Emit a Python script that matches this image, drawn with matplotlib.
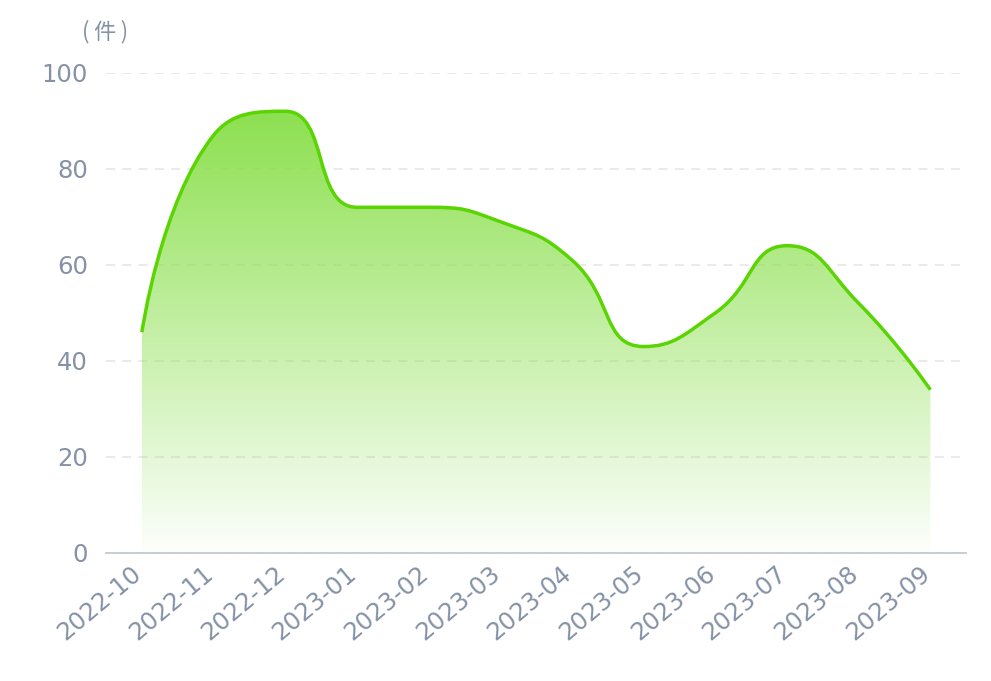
import numpy as np
import matplotlib
matplotlib.use("Agg")
import matplotlib.pyplot as plt
from matplotlib.path import Path
from matplotlib.patches import PathPatch
from matplotlib.transforms import ScaledTranslation

# monthly counts (件)
months = ["2022-10", "2022-11", "2022-12", "2023-01", "2023-02", "2023-03",
          "2023-04", "2023-05", "2023-06", "2023-07", "2023-08", "2023-09"]
counts = [46, 87, 92, 72, 72, 69, 61, 43, 50, 64, 52, 34]
y_ticks = [0, 20, 40, 60, 80, 100]

LINE_COLOR = "#5ad402"
TOP_RGB = (0.55, 0.88, 0.31)
LABEL_COLOR = "#8592a6"

plt.rcParams["font.family"] = ["DejaVu Sans"]


def smooth_path(xs, ys, sx, sy, smooth=0.5):
    """echarts-like smoothed bezier through the points, in data coords."""
    px = np.asarray(xs, float) * sx
    py = np.asarray(ys, float) * sy
    n = len(px)
    verts = [(px[0], py[0])]
    codes = [Path.MOVETO]
    cp0 = (px[0], py[0])
    for i in range(1, n):
        x, y = px[i], py[i]
        prev_x, prev_y = px[i - 1], py[i - 1]
        if i == n - 1:
            cp1 = (x, y)
            nxt = None
        else:
            nx, ny = px[i + 1], py[i + 1]
            vx, vy = nx - prev_x, ny - prev_y
            len_prev = np.hypot(x - prev_x, y - prev_y)
            len_next = np.hypot(nx - x, ny - y)
            ratio = len_next / (len_next + len_prev)
            ncx = x + vx * smooth * ratio
            ncy = y + vy * smooth * ratio
            ncx = max(min(ncx, max(nx, x)), min(nx, x))
            ncy = max(min(ncy, max(ny, y)), min(ny, y))
            vx, vy = ncx - x, ncy - y
            c1x = x - vx * len_prev / len_next
            c1y = y - vy * len_prev / len_next
            c1x = max(min(c1x, max(prev_x, x)), min(prev_x, x))
            c1y = max(min(c1y, max(prev_y, y)), min(prev_y, y))
            vx, vy = x - c1x, y - c1y
            nxt = (x + vx * len_next / len_prev, y + vy * len_next / len_prev)
            cp1 = (c1x, c1y)
        verts += [cp0, cp1, (x, y)]
        codes += [Path.CURVE4] * 3
        cp0 = nxt
    verts = [(vx / sx, vy / sy) for vx, vy in verts]
    return verts, codes


fig = plt.figure(figsize=(9.91, 6.81), dpi=100)
ax = fig.add_axes([0.107, 0.188, 0.868, 0.705])

x = np.arange(len(months))
ax.set_xlim(-0.5, len(months) - 0.5)
ax.set_ylim(0, 100)

# pixel scale per data unit, used for the smoothing distances
verts, codes = smooth_path(x, counts, 71.67, 4.8)
line_path = Path(verts, codes)

fill_verts = verts + [(x[-1], 0), (x[0], 0), verts[0]]
fill_codes = codes + [Path.LINETO, Path.LINETO, Path.CLOSEPOLY]
fill_patch = PathPatch(Path(fill_verts, fill_codes), facecolor="none",
                       edgecolor="none")
ax.add_patch(fill_patch)

top = max(counts)
grad = np.zeros((256, 1, 4))
t = np.linspace(1, 0, 256)
grad[:, 0, 0] = TOP_RGB[0]
grad[:, 0, 1] = TOP_RGB[1]
grad[:, 0, 2] = TOP_RGB[2]
grad[:, 0, 3] = 0.02 + 0.98 * t
img = ax.imshow(grad, extent=(x[0], x[-1], 0, top), origin="upper",
                aspect="auto", zorder=1, interpolation="bilinear")
img.set_clip_path(fill_patch)

ax.add_patch(PathPatch(line_path, facecolor="none", edgecolor=LINE_COLOR,
                       lw=2.5, zorder=3, capstyle="butt", joinstyle="round"))

ax.set_yticks(y_ticks)
ax.yaxis.grid(True, linestyle=(0, (5, 4)), color="#e8e8e8", lw=1.3)
ax.set_axisbelow(True)
ax.set_xticks(x)
ax.set_xticklabels(months, rotation=40, ha="right", va="top",
                   rotation_mode="anchor")
ax.tick_params(axis="both", length=0, labelsize=17.5, colors=LABEL_COLOR)
ax.tick_params(axis="y", pad=13)
ax.tick_params(axis="x", pad=8)

# nudge rotated month labels to sit like the original
shift = ScaledTranslation(-0.11, 0.03, fig.dpi_scale_trans)
for lab in ax.get_xticklabels():
    lab.set_transform(lab.get_transform() + shift)

for side in ["top", "right", "left"]:
    ax.spines[side].set_visible(False)
ax.spines["bottom"].set_color("#c4c8d0")
ax.spines["bottom"].set_linewidth(1.3)

fig.text(0.106, 0.953, "(\u2009件\u2009)", ha="center", va="center",
         fontsize=16, color=LABEL_COLOR,
         family=["Noto Sans CJK SC", "DejaVu Sans"])

fig.savefig("out.png", dpi=100, facecolor="white")
